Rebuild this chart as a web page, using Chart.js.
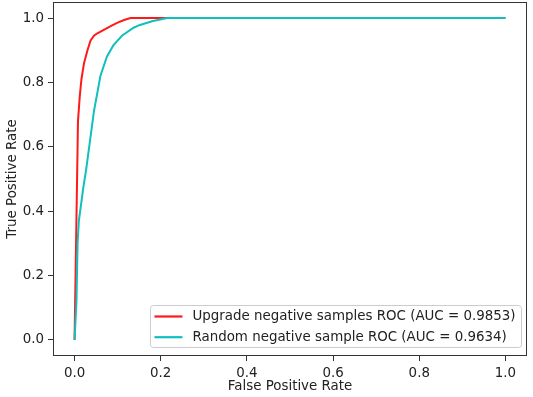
<!DOCTYPE html>
<html>
<head>
<meta charset="utf-8">
<script src="https://cdn.jsdelivr.net/npm/chart.js@4/dist/chart.umd.min.js"></script>
<style>
  html, body { margin: 0; padding: 0; background: #ffffff; }
  #wrap { width: 533px; height: 397px; }
</style>
</head>
<body>
<div id="wrap"><canvas id="c" width="533" height="397"></canvas></div>
<script>
const seriesLabels = [
  'Upgrade negative samples ROC (AUC = 0.9853)',
  'Random negative sample ROC (AUC = 0.9634)'
];
const fprUpgrade = [0, 0.004, 0.008, 0.012, 0.016, 0.022, 0.03, 0.037, 0.045, 0.052, 0.07, 0.085, 0.1, 0.115, 0.13, 1.0];
const tprUpgrade = [0, 0.34, 0.68, 0.755, 0.81, 0.86, 0.9, 0.93, 0.945, 0.952, 0.965, 0.976, 0.986, 0.994, 1.0, 1.0];
const fprRandom = [0, 0.0045, 0.007, 0.01, 0.015, 0.02, 0.027, 0.035, 0.045, 0.06, 0.075, 0.09, 0.11, 0.137, 0.15, 0.18, 0.204, 0.215, 1.0];
const tprRandom = [0, 0.12, 0.3, 0.37, 0.42, 0.47, 0.53, 0.61, 0.71, 0.82, 0.88, 0.915, 0.945, 0.97, 0.978, 0.99, 0.997, 1.0, 1.0];
const xTicks = [0, 0.2, 0.4, 0.6, 0.8, 1.0];
const yTicks = [0, 0.2, 0.4, 0.6, 0.8, 1.0];

const FONT = "'DejaVu Sans', sans-serif";
const FSIZE = 13.4;
const TXT = '#222222';

function toPts(xs, ys) { return xs.map((x, i) => ({ x: x, y: ys[i] })); }

const framePlugin = {
  id: 'frame',
  afterDatasetsDraw(chart) {
    const ctx = chart.ctx, a = chart.chartArea;
    ctx.save();
    ctx.strokeStyle = '#333333';
    ctx.lineWidth = 1;
    ctx.strokeRect(Math.round(a.left) + 0.5, Math.round(a.top) + 0.5,
                   Math.round(a.right - a.left) - 1, Math.round(a.bottom - a.top) - 1);
    ctx.restore();
  }
};

const legendPlugin = {
  id: 'innerLegend',
  afterDraw(chart) {
    const ctx = chart.ctx, a = chart.chartArea;
    const ds = chart.data.datasets;
    ctx.save();
    ctx.font = FSIZE + 'px ' + FONT;
    let maxW = 0;
    ds.forEach(d => { maxW = Math.max(maxW, ctx.measureText(d.label).width); });
    const w = 4 + 28 + 10 + maxW + 6;
    const h = 42;
    const right = a.right - 5.5;
    const bottom = a.bottom - 8.5;
    const left = right - w;
    const top = bottom - h;
    const r = 3;
    ctx.beginPath();
    ctx.moveTo(left + r, top);
    ctx.lineTo(right - r, top);
    ctx.quadraticCurveTo(right, top, right, top + r);
    ctx.lineTo(right, bottom - r);
    ctx.quadraticCurveTo(right, bottom, right - r, bottom);
    ctx.lineTo(left + r, bottom);
    ctx.quadraticCurveTo(left, bottom, left, bottom - r);
    ctx.lineTo(left, top + r);
    ctx.quadraticCurveTo(left, top, left + r, top);
    ctx.closePath();
    ctx.fillStyle = 'rgba(255,255,255,0.85)';
    ctx.fill();
    ctx.strokeStyle = '#cccccc';
    ctx.lineWidth = 1;
    ctx.stroke();
    ds.forEach((d, i) => {
      const cy = top + 11 + i * 20.7;
      ctx.strokeStyle = d.borderColor;
      ctx.lineWidth = 2.2;
      ctx.beginPath();
      ctx.moveTo(left + 4, cy);
      ctx.lineTo(left + 32, cy);
      ctx.stroke();
      ctx.fillStyle = TXT;
      ctx.textBaseline = 'middle';
      ctx.textAlign = 'left';
      ctx.fillText(d.label, left + 42, cy + 0.5);
    });
    ctx.restore();
  }
};

new Chart(document.getElementById('c'), {
  type: 'line',
  data: {
    datasets: [
      {
        label: seriesLabels[0],
        data: toPts(fprUpgrade, tprUpgrade),
        borderColor: '#ff1a1a',
        backgroundColor: '#ff1a1a',
        borderWidth: 2,
        pointRadius: 0,
        tension: 0,
        fill: false,
        order: 1
      },
      {
        label: seriesLabels[1],
        data: toPts(fprRandom, tprRandom),
        borderColor: '#12bfbf',
        backgroundColor: '#12bfbf',
        borderWidth: 2,
        pointRadius: 0,
        tension: 0,
        fill: false,
        order: 0
      }
    ]
  },
  options: {
    responsive: false,
    animation: false,
    layout: { padding: { top: 2, right: 6, left: 0, bottom: 0 } },
    plugins: {
      legend: { display: false },
      tooltip: { enabled: false }
    },
    scales: {
      x: {
        type: 'linear',
        min: -0.05,
        max: 1.05,
        afterBuildTicks(scale) { scale.ticks = xTicks.map(v => ({ value: v })); },
        afterFit(scale) { scale.height = 41; scale.paddingLeft = 0; scale.paddingRight = 0; },
        grid: { display: true, drawOnChartArea: false, drawTicks: true, tickLength: 5, color: '#333333', lineWidth: 1 },
        border: { display: false },
        ticks: {
          color: TXT,
          font: { family: FONT, size: FSIZE },
          padding: 4,
          maxRotation: 0,
          callback: v => Number(v).toFixed(1)
        },
        title: {
          display: true,
          text: 'False Positive Rate',
          color: TXT,
          font: { family: FONT, size: FSIZE },
          padding: { top: 0, bottom: 2 }
        }
      },
      y: {
        type: 'linear',
        min: -0.05,
        max: 1.05,
        afterBuildTicks(scale) { scale.ticks = yTicks.map(v => ({ value: v })); },
        afterFit(scale) { scale.width = 53; scale.paddingTop = 0; scale.paddingBottom = 0; },
        grid: { display: true, drawOnChartArea: false, drawTicks: true, tickLength: 5, color: '#333333', lineWidth: 1 },
        border: { display: false },
        ticks: {
          color: TXT,
          font: { family: FONT, size: FSIZE },
          padding: 4,
          callback: v => Number(v).toFixed(1)
        },
        title: {
          display: true,
          text: 'True Positive Rate',
          color: TXT,
          font: { family: FONT, size: FSIZE },
          padding: { top: 4, bottom: 0 }
        }
      }
    }
  },
  plugins: [framePlugin, legendPlugin]
});
</script>
</body>
</html>
